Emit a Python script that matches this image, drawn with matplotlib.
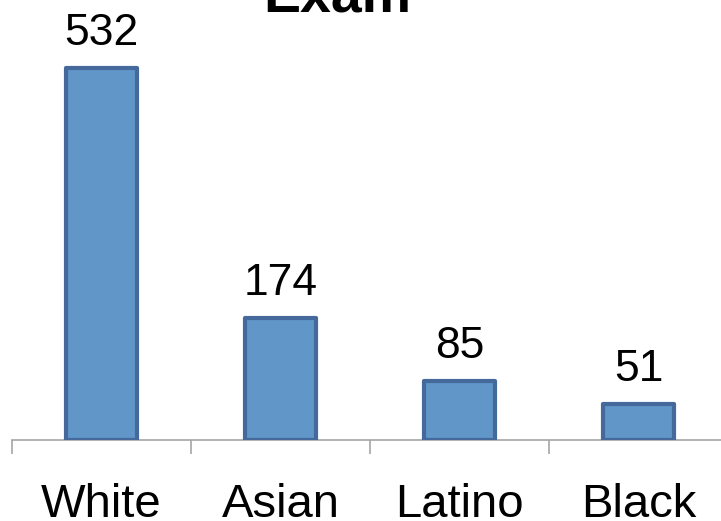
import matplotlib
matplotlib.use("Agg")
import matplotlib.pyplot as plt

categories = ["White", "Asian", "Latino", "Black"]
counts = [532, 174, 85, 51]
title = "Exam"

plt.rcParams["font.family"] = ["Liberation Sans", "DejaVu Sans"]

W, H = 721, 521
fig = plt.figure(figsize=(W / 100, H / 100), dpi=100)
fig.patch.set_facecolor("white")

# axes spans four category slots of ~179 px starting at x=12; baseline near y=440
px_per_unit = 0.699
left = 12 / W
width = 4 * 179 / W
bottom = (H - 440) / H
height = 600 * px_per_unit / H
ax = fig.add_axes([left, bottom, width, height])

x = range(len(categories))
ax.bar(x, counts, width=0.4, color="#6096c8", edgecolor="#44699a",
       linewidth=3, joinstyle="round", zorder=3)

for xi, v in zip(x, counts):
    ax.annotate(str(v), (xi, v), xytext=(0, 10), textcoords="offset points",
                ha="center", va="bottom", fontsize=32, color="black")

ax.set_xlim(-0.5, len(categories) - 0.5)
ax.set_ylim(0, 600)

for s in ["top", "right", "left"]:
    ax.spines[s].set_visible(False)
ax.spines["bottom"].set_color("#a6a6a6")
ax.spines["bottom"].set_linewidth(1.2)
ax.set_yticks([])

# tick marks at category boundaries, labels centered under bars
ax.set_xticks([i - 0.5 for i in range(len(categories) + 1)], minor=False)
ax.set_xticklabels([])
ax.tick_params(axis="x", which="major", length=10, width=1.2, color="#a6a6a6",
               direction="out")
ax.set_xticks(list(x), minor=True)
ax.set_xticklabels(categories, minor=True, fontsize=34)
ax.tick_params(axis="x", which="minor", length=0, pad=31)

fig.text(337 / W, 1 - 12 / H, title, ha="center", va="baseline",
         fontsize=40, fontweight="bold")

fig.savefig("out.png", dpi=100)
